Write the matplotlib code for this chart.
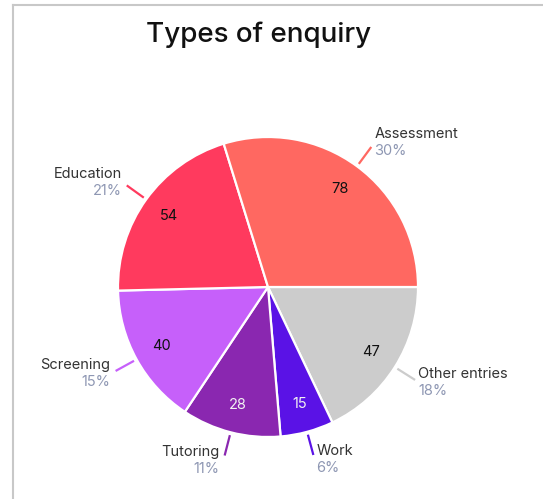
import numpy as np
import matplotlib
matplotlib.use("Agg")
import matplotlib.pyplot as plt
from matplotlib.lines import Line2D

plt.rcParams['font.family'] = ['Inter', 'DejaVu Sans']

# Data (clockwise from 3 o'clock)
categories = ["Other entries", "Work", "Tutoring", "Screening", "Education", "Assessment"]
values = [47, 15, 28, 40, 54, 78]
percent_labels = ["18%", "6%", "11%", "15%", "21%", "30%"]
colors = ["#cccccc", "#5a12e6", "#8a27b0", "#c660fa", "#ff3a5e", "#ff6861"]
value_text_colors = ["#111111", "#f2f2f2", "#f2f2f2", "#111111", "#111111", "#111111"]
connector_colors = ["#cccccc", "#5a12e6", "#8a27b0", "#c660fa", "#ff3a5e", "#ff6861"]

W, H = 543, 499
fig = plt.figure(figsize=(W / 100, H / 100), dpi=100)
ax = fig.add_axes([0, 0, 1, 1])

cx, cy, R = 268, 287, 150  # pixel center & radius
px = 1.0 / R

wedges, _ = ax.pie(values, colors=colors, startangle=0, counterclock=False,
                   radius=1.0, center=(0, 0),
                   wedgeprops=dict(edgecolor="white", linewidth=1.6))

ax.set_xlim(-cx / R, (W - cx) / R)
ax.set_ylim(-(H - cy) / R, cy / R)
ax.set_aspect('auto')
ax.axis('off')

for w, name, pct, val, tc, lc in zip(wedges, categories, percent_labels, values,
                                     value_text_colors, connector_colors):
    mid = np.deg2rad((w.theta1 + w.theta2) / 2)
    c, s = np.cos(mid), np.sin(mid)
    # value label inside
    ax.text(0.81 * c, 0.81 * s, str(val), ha="center", va="center",
            fontsize=10.5, color=tc)
    # connector
    r0, r1 = 1.02, 1.16
    ax.plot([r0 * c, r1 * c], [r0 * s, r1 * s], color=lc, lw=1.6,
            solid_capstyle="butt")
    ex, ey = r1 * c, r1 * s
    if c >= 0:
        tx, ha = ex + 3 * px, "left"
    else:
        tx, ha = ex - 5 * px, "right"
    box_cy = ey + 5 * px * s
    ax.text(tx, box_cy + 8.5 * px, name, ha=ha, va="center", fontsize=10.5,
            color="#333333")
    ax.text(tx, box_cy - 8.5 * px, pct, ha=ha, va="center", fontsize=10.5,
            color="#8e97b3")

# Title
fig.text(258.5 / W, 1 - 35 / H, "Types of enquiry", ha="center", va="center",
         fontsize=20, fontweight="medium", color="#111111")

# Frame lines (left and top)
fig.add_artist(Line2D([13 / W, 13 / W], [0, 1 - 5 / H], color="#c8c8c8", lw=1.5,
                      transform=fig.transFigure))
fig.add_artist(Line2D([13 / W, 1], [1 - 5 / H, 1 - 5 / H], color="#c8c8c8", lw=1.5,
                      transform=fig.transFigure))

fig.savefig("out.png", dpi=100)
